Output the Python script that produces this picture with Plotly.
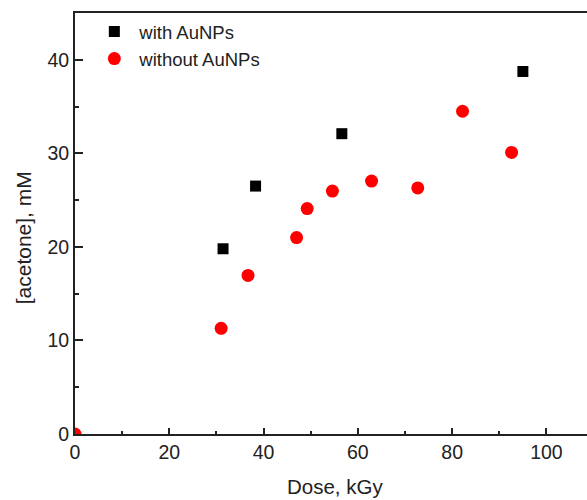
import plotly.graph_objects as go

with_dose = [31.4, 38.3, 56.6, 95.0]
with_acetone = [19.8, 26.5, 32.1, 38.75]

without_dose = [0, 31.0, 36.7, 47.0, 49.25, 54.6, 62.9, 72.7, 82.2, 92.6]
without_acetone = [0, 11.3, 16.95, 21.0, 24.1, 25.97, 27.04, 26.3, 34.5, 30.1]

x_title = "Dose, kGy"
y_title = "[acetone], mM"

FONT = "Liberation Sans, Arial, sans-serif"
INK = "#222222"

fig = go.Figure()
fig.add_trace(go.Scatter(
    x=with_dose, y=with_acetone, mode="markers", name="with AuNPs",
    marker=dict(symbol="square", size=11, color="black"),
))
fig.add_trace(go.Scatter(
    x=without_dose, y=without_acetone, mode="markers", name="without AuNPs",
    marker=dict(symbol="circle", size=13, color="#ff0000"),
))

axis_common = dict(
    showgrid=False, zeroline=False, showline=True, linecolor=INK,
    linewidth=2, ticks="inside", tickcolor=INK, tickwidth=2, automargin=False,
    tickfont=dict(family=FONT, size=19.5, color=INK),
)

fig.update_layout(
    width=587, height=500,
    margin=dict(l=75, r=0, t=13, b=66),
    paper_bgcolor="white", plot_bgcolor="white",
    font=dict(family=FONT, size=19, color=INK),
    showlegend=True,
    legend=dict(
        x=0.028, y=1.0, xanchor="left", yanchor="top",
        bgcolor="rgba(0,0,0,0)", font=dict(family=FONT, size=18.5, color=INK),
        itemwidth=40, tracegroupgap=0,
    ),
    xaxis=dict(
        range=[0, 108.6], dtick=20, tick0=0, ticklen=6, mirror=True,
        minor=dict(dtick=10, ticks="inside", ticklen=3, tickwidth=2, tickcolor=INK),
        **axis_common,
    ),
    yaxis=dict(
        range=[0, 45], dtick=10, tick0=0, ticklen=8, mirror=False,
        minor=dict(dtick=5, ticks="inside", ticklen=4, tickwidth=2, tickcolor=INK),
        **axis_common,
    ),
    annotations=[
        dict(text=x_title, xref="paper", yref="paper", x=0.507, y=-0.1568,
             xanchor="center", yanchor="bottom", showarrow=False,
             font=dict(family=FONT, size=20.5, color=INK)),
        dict(text=y_title, xref="paper", yref="paper", x=-0.1006, y=0.466,
             xanchor="center", yanchor="middle", textangle=-90, showarrow=False,
             font=dict(family=FONT, size=21, color=INK)),
    ],
)

# remove the browser's default 8px body margin so the figure fills the window exactly
fig.write_html(
    "out.html",
    config={"displayModeBar": False},
    post_script="document.body.style.margin='0';document.body.style.overflow='hidden';",
)
